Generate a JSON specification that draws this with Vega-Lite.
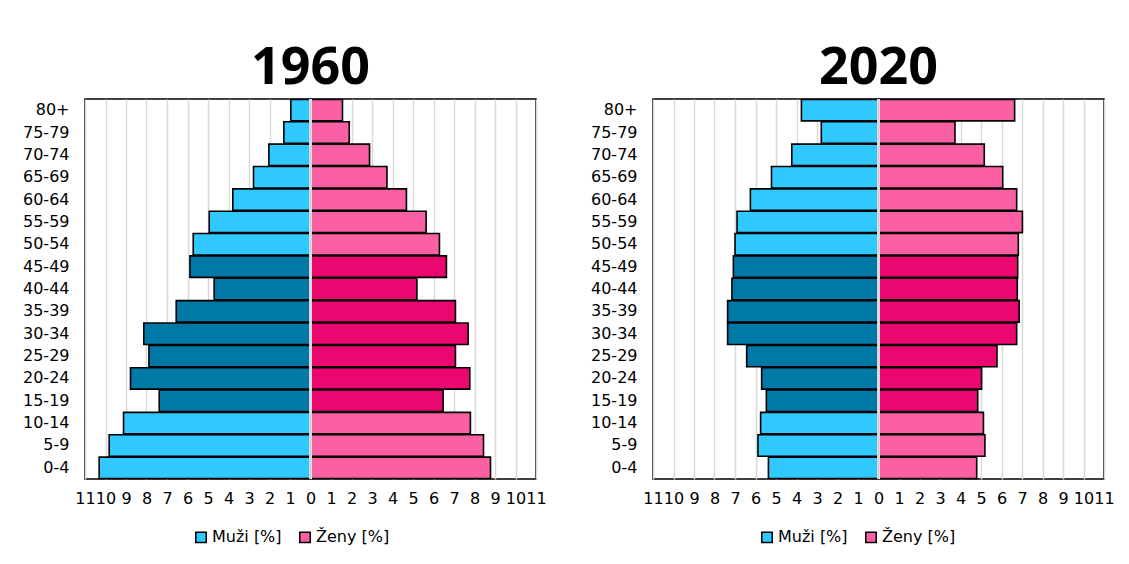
{
  "$schema": "https://vega.github.io/schema/vega-lite/v6.json",
  "background": "white",
  "padding": {"left": 21, "top": 41, "right": 5, "bottom": 5},
  "spacing": 42,
  "data": {"values": [
    {"year": 1960, "age": "80+", "group": "Muži [%]", "value": -0.96},
    {"year": 1960, "age": "75-79", "group": "Muži [%]", "value": -1.30},
    {"year": 1960, "age": "70-74", "group": "Muži [%]", "value": -2.03},
    {"year": 1960, "age": "65-69", "group": "Muži [%]", "value": -2.78},
    {"year": 1960, "age": "60-64", "group": "Muži [%]", "value": -3.79},
    {"year": 1960, "age": "55-59", "group": "Muži [%]", "value": -4.94},
    {"year": 1960, "age": "50-54", "group": "Muži [%]", "value": -5.72},
    {"year": 1960, "age": "45-49", "group": "Muži 15-49", "value": -5.88},
    {"year": 1960, "age": "40-44", "group": "Muži 15-49", "value": -4.70},
    {"year": 1960, "age": "35-39", "group": "Muži 15-49", "value": -6.55},
    {"year": 1960, "age": "30-34", "group": "Muži 15-49", "value": -8.13},
    {"year": 1960, "age": "25-29", "group": "Muži 15-49", "value": -7.88},
    {"year": 1960, "age": "20-24", "group": "Muži 15-49", "value": -8.78},
    {"year": 1960, "age": "15-19", "group": "Muži 15-49", "value": -7.38},
    {"year": 1960, "age": "10-14", "group": "Muži [%]", "value": -9.12},
    {"year": 1960, "age": "5-9", "group": "Muži [%]", "value": -9.82},
    {"year": 1960, "age": "0-4", "group": "Muži [%]", "value": -10.31},
    {"year": 1960, "age": "80+", "group": "Ženy [%]", "value": 1.56},
    {"year": 1960, "age": "75-79", "group": "Ženy [%]", "value": 1.89},
    {"year": 1960, "age": "70-74", "group": "Ženy [%]", "value": 2.88},
    {"year": 1960, "age": "65-69", "group": "Ženy [%]", "value": 3.73},
    {"year": 1960, "age": "60-64", "group": "Ženy [%]", "value": 4.68},
    {"year": 1960, "age": "55-59", "group": "Ženy [%]", "value": 5.64},
    {"year": 1960, "age": "50-54", "group": "Ženy [%]", "value": 6.29},
    {"year": 1960, "age": "45-49", "group": "Ženy 15-49", "value": 6.63},
    {"year": 1960, "age": "40-44", "group": "Ženy 15-49", "value": 5.19},
    {"year": 1960, "age": "35-39", "group": "Ženy 15-49", "value": 7.07},
    {"year": 1960, "age": "30-34", "group": "Ženy 15-49", "value": 7.69},
    {"year": 1960, "age": "25-29", "group": "Ženy 15-49", "value": 7.07},
    {"year": 1960, "age": "20-24", "group": "Ženy 15-49", "value": 7.77},
    {"year": 1960, "age": "15-19", "group": "Ženy 15-49", "value": 6.47},
    {"year": 1960, "age": "10-14", "group": "Ženy [%]", "value": 7.80},
    {"year": 1960, "age": "5-9", "group": "Ženy [%]", "value": 8.44},
    {"year": 1960, "age": "0-4", "group": "Ženy [%]", "value": 8.78},
    {"year": 2020, "age": "80+", "group": "Muži [%]", "value": -3.76},
    {"year": 2020, "age": "75-79", "group": "Muži [%]", "value": -2.79},
    {"year": 2020, "age": "70-74", "group": "Muži [%]", "value": -4.23},
    {"year": 2020, "age": "65-69", "group": "Muži [%]", "value": -5.22},
    {"year": 2020, "age": "60-64", "group": "Muži [%]", "value": -6.25},
    {"year": 2020, "age": "55-59", "group": "Muži [%]", "value": -6.90},
    {"year": 2020, "age": "50-54", "group": "Muži [%]", "value": -7.00},
    {"year": 2020, "age": "45-49", "group": "Muži 15-49", "value": -7.08},
    {"year": 2020, "age": "40-44", "group": "Muži 15-49", "value": -7.15},
    {"year": 2020, "age": "35-39", "group": "Muži 15-49", "value": -7.36},
    {"year": 2020, "age": "30-34", "group": "Muži 15-49", "value": -7.36},
    {"year": 2020, "age": "25-29", "group": "Muži 15-49", "value": -6.43},
    {"year": 2020, "age": "20-24", "group": "Muži 15-49", "value": -5.70},
    {"year": 2020, "age": "15-19", "group": "Muži 15-49", "value": -5.47},
    {"year": 2020, "age": "10-14", "group": "Muži [%]", "value": -5.75},
    {"year": 2020, "age": "5-9", "group": "Muži [%]", "value": -5.88},
    {"year": 2020, "age": "0-4", "group": "Muži [%]", "value": -5.37},
    {"year": 2020, "age": "80+", "group": "Ženy [%]", "value": 6.64},
    {"year": 2020, "age": "75-79", "group": "Ženy [%]", "value": 3.73},
    {"year": 2020, "age": "70-74", "group": "Ženy [%]", "value": 5.16},
    {"year": 2020, "age": "65-69", "group": "Ženy [%]", "value": 6.06},
    {"year": 2020, "age": "60-64", "group": "Ženy [%]", "value": 6.74},
    {"year": 2020, "age": "55-59", "group": "Ženy [%]", "value": 7.02},
    {"year": 2020, "age": "50-54", "group": "Ženy [%]", "value": 6.82},
    {"year": 2020, "age": "45-49", "group": "Ženy 15-49", "value": 6.79},
    {"year": 2020, "age": "40-44", "group": "Ženy 15-49", "value": 6.77},
    {"year": 2020, "age": "35-39", "group": "Ženy 15-49", "value": 6.86},
    {"year": 2020, "age": "30-34", "group": "Ženy 15-49", "value": 6.74},
    {"year": 2020, "age": "25-29", "group": "Ženy 15-49", "value": 5.78},
    {"year": 2020, "age": "20-24", "group": "Ženy 15-49", "value": 5.03},
    {"year": 2020, "age": "15-19", "group": "Ženy 15-49", "value": 4.84},
    {"year": 2020, "age": "10-14", "group": "Ženy [%]", "value": 5.12},
    {"year": 2020, "age": "5-9", "group": "Ženy [%]", "value": 5.19},
    {"year": 2020, "age": "0-4", "group": "Ženy [%]", "value": 4.79}
  ]},
  "resolve": {"scale": {"color": "independent"}, "legend": {"color": "independent"}},
  "hconcat": [
    {
      "title": {"text": "1960"},
      "width": 451,
      "height": 380,
      "transform": [{"filter": "datum.year == 1960"}],
      "layer": [
        {
          "mark": {"type": "bar", "stroke": "black", "strokeWidth": 1.6},
          "encoding": {
            "y": {"field": "age", "type": "ordinal", "title": null,
              "sort": ["80+","75-79","70-74","65-69","60-64","55-59","50-54","45-49","40-44","35-39","30-34","25-29","20-24","15-19","10-14","5-9","0-4"],
              "scale": {"paddingInner": 0.04, "paddingOuter": 0.02}},
            "x": {"field": "value", "type": "quantitative", "title": null,
              "scale": {"domain": [-11, 11], "nice": false, "zero": false},
              "axis": {"values": [-11,-10,-9,-8,-7,-6,-5,-4,-3,-2,-1,0,1,2,3,4,5,6,7,8,9,10,11], "tickCount": 30, "labelOverlap": false}},
            "color": {"field": "group", "type": "nominal",
              "scale": {"domain": ["Muži [%]", "Ženy [%]", "Muži 15-49", "Ženy 15-49"], "range": ["#2FC9FF", "#FB5FA4", "#0079A7", "#EB0670"]},
              "legend": {"values": ["Muži [%]", "Ženy [%]"], "orient": "none", "legendX": 108, "legendY": 430}}
          }
        },
        {
          "mark": {"type": "rule", "color": "#D9D9D9", "strokeWidth": 2},
          "encoding": {"x": {"datum": 0}}
        }
      ]
    },
    {
      "title": {"text": "2020"},
      "width": 451,
      "height": 380,
      "transform": [{"filter": "datum.year == 2020"}],
      "layer": [
        {
          "mark": {"type": "bar", "stroke": "black", "strokeWidth": 1.6},
          "encoding": {
            "y": {"field": "age", "type": "ordinal", "title": null,
              "sort": ["80+","75-79","70-74","65-69","60-64","55-59","50-54","45-49","40-44","35-39","30-34","25-29","20-24","15-19","10-14","5-9","0-4"],
              "scale": {"paddingInner": 0.04, "paddingOuter": 0.02}},
            "x": {"field": "value", "type": "quantitative", "title": null,
              "scale": {"domain": [-11, 11], "nice": false, "zero": false},
              "axis": {"values": [-11,-10,-9,-8,-7,-6,-5,-4,-3,-2,-1,0,1,2,3,4,5,6,7,8,9,10,11], "tickCount": 30, "labelOverlap": false}},
            "color": {"field": "group", "type": "nominal",
              "scale": {"domain": ["Muži [%]", "Ženy [%]", "Muži 15-49", "Ženy 15-49"], "range": ["#2FC9FF", "#FB5FA4", "#0079A7", "#EB0670"]},
              "legend": {"values": ["Muži [%]", "Ženy [%]"], "orient": "none", "legendX": 106, "legendY": 430}}
          }
        },
        {
          "mark": {"type": "rule", "color": "#D9D9D9", "strokeWidth": 2},
          "encoding": {"x": {"datum": 0}}
        }
      ]
    }
  ],
  "config": {
    "font": "DejaVu Sans",
    "view": {"stroke": "black", "strokeWidth": 1.6},
    "title": {"fontSize": 52, "fontWeight": "bold", "font": "Open Sans", "color": "black", "offset": 3, "anchor": "middle"},
    "axisX": {
      "labelExpr": "abs(datum.value)",
      "grid": true, "gridColor": "#D9D9D9", "gridWidth": 1.5,
      "domain": false, "ticks": false,
      "labelPadding": 11, "labelFontSize": 16, "labelColor": "black",
      "labelOverlap": false, "labelFlush": false, "labelBound": false
    },
    "axisY": {
      "domain": false, "ticks": false, "grid": false,
      "labelPadding": 16, "labelFontSize": 16, "labelColor": "black"
    },
    "legend": {
      "direction": "horizontal", "title": null,
      "symbolType": "square", "symbolSize": 110, "symbolStrokeColor": "black", "symbolStrokeWidth": 1.5,
      "labelFontSize": 16, "labelColor": "black", "columnPadding": 14, "labelOffset": 3
    }
  }
}
